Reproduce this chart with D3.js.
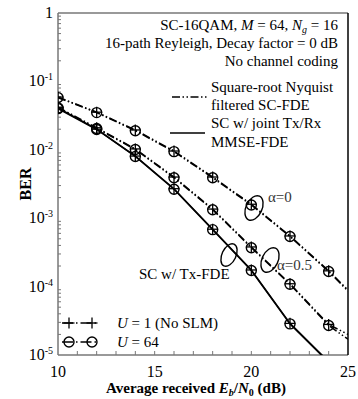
<!DOCTYPE html>
<html lang="en">
<head>
<meta charset="utf-8">
<title>BER vs Eb/N0</title>
<script src="https://cdn.jsdelivr.net/npm/d3@7/dist/d3.min.js"></script>
<style>
  * { margin: 0; padding: 0; }
  body { background: #fff; }
  svg { display: block; }
  svg text { font-family: "Liberation Serif", "Times New Roman", "DejaVu Serif", serif; }
</style>
</head>
<body>
<svg id="chart" width="358" height="399"></svg>
<script>
// data (BER at each Eb/N0 in dB)
const snrDb = [10, 12, 14, 16, 18, 20, 22, 24, 25]
const alpha0U1 = [0.059, 0.0355, 0.0195, 0.0096, 0.0040, 0.0016, 5.5e-4, 1.7e-4, 8.9e-5]
const alpha0U64 = [0.058, 0.035, 0.019, 0.0094, 0.0039, 0.00156, 5.4e-4, 1.66e-4, 8.6e-5]
const alpha05U1 = [0.042, 0.021, 0.0103, 0.0040, 0.00136, 3.8e-4, 1.1e-4, 2.8e-5, 2.0e-5]
const alpha05U64 = [0.041, 0.0205, 0.0101, 0.0039, 0.00133, 3.7e-4, 1.08e-4, 2.7e-5, 1.7e-5]
const mmseU1 = [0.041, 0.020, 0.0081, 0.0027, 6.9e-4, 1.75e-4, 2.9e-5, 8e-6, 3e-6]
const mmseU64 = [0.040, 0.0198, 0.0080, 0.00265, 6.8e-4, 1.72e-4, 2.85e-5, 7.8e-6, 2.9e-6]
const xTicks = [10, 15, 20, 25]
const yTicks = [1, 1e-1, 1e-2, 1e-3, 1e-4, 1e-5]

const svg = d3.select('#chart')
const L = 58, R = 348, T = 13, B = 355
const x = d3.scaleLinear().domain([10, 25]).range([L, R])
const y = d3.scaleLog().domain([1e-5, 1]).range([B, T])

const DASH_DOT2 = '8,2.5,1.5,2.5,1.5,2.5'

svg.append('clipPath').attr('id', 'clip')
  .append('rect').attr('x', L).attr('y', T).attr('width', R - L).attr('height', B - T)

// frame: grey left/top/bottom, black right
const axisGrey = '#777'
svg.append('line').attr('x1', L).attr('x2', L).attr('y1', T).attr('y2', B).attr('stroke', axisGrey).attr('stroke-width', 1.5)
svg.append('line').attr('x1', L).attr('x2', R).attr('y1', T).attr('y2', T).attr('stroke', axisGrey).attr('stroke-width', 1.5)
svg.append('line').attr('x1', L).attr('x2', R).attr('y1', B).attr('y2', B).attr('stroke', axisGrey).attr('stroke-width', 1.5)
svg.append('line').attr('x1', R).attr('x2', R).attr('y1', T).attr('y2', B).attr('stroke', '#000').attr('stroke-width', 1.5)

// y minor ticks (inside)
const yMinor = []
for (let e = -5; e < 0; e++) for (let m = 2; m <= 9; m++) yMinor.push(m * Math.pow(10, e))
svg.append('g').selectAll('line').data(yMinor).join('line')
  .attr('x1', L).attr('x2', L + 3)
  .attr('y1', d => y(d)).attr('y2', d => y(d))
  .attr('stroke', axisGrey).attr('stroke-width', 1)

// x ticks every dB (inside, at bottom)
svg.append('g').selectAll('line').data(d3.range(11, 25)).join('line')
  .attr('x1', d => x(d)).attr('x2', d => x(d))
  .attr('y1', B).attr('y2', B - 4)
  .attr('stroke', axisGrey).attr('stroke-width', 1)

// tick labels
svg.append('g').selectAll('text').data(xTicks).join('text')
  .attr('x', d => x(d)).attr('y', 377)
  .attr('text-anchor', 'middle').attr('font-size', 16)
  .text(d => d)

const yl = svg.append('g').selectAll('text').data(yTicks).join('text')
  .attr('x', 53).attr('y', d => y(d) + 5)
  .attr('text-anchor', 'end').attr('font-size', 16)
yl.each(function (d) {
  const t = d3.select(this)
  const e = Math.round(Math.log10(d))
  if (e === 0) { t.text('1'); return }
  t.append('tspan').text('10')
  t.append('tspan').attr('font-size', 10).attr('dy', -6).text(e)
})

// axis titles
svg.append('text')
  .attr('transform', 'translate(31,184) rotate(-90)')
  .attr('text-anchor', 'middle').attr('font-size', 16).attr('font-weight', 'bold')
  .text('BER')

const xt = svg.append('text').attr('x', 196).attr('y', 393)
  .attr('text-anchor', 'middle').attr('font-size', 15).attr('font-weight', 'bold')
xt.append('tspan').text('Average received ')
xt.append('tspan').attr('font-style', 'italic').text('E')
xt.append('tspan').attr('font-style', 'italic').attr('font-size', 10).attr('dy', 3).text('b')
xt.append('tspan').attr('dy', -3).text('/')
xt.append('tspan').attr('font-style', 'italic').text('N')
xt.append('tspan').attr('font-size', 10).attr('dy', 3).text('0')
xt.append('tspan').attr('dy', -3).text(' (dB)')

// curves
const series = [
  { v: alpha0U1, dash: DASH_DOT2, mk: 'plus' },
  { v: alpha0U64, dash: DASH_DOT2, mk: 'circle' },
  { v: alpha05U1, dash: DASH_DOT2, mk: 'plus' },
  { v: alpha05U64, dash: DASH_DOT2, mk: 'circle' },
  { v: mmseU1, dash: null, mk: 'plus' },
  { v: mmseU64, dash: null, mk: 'circle' }
]
const line = d3.line().x(d => x(d[0])).y(d => y(d[1]))
const plot = svg.append('g').attr('clip-path', 'url(#clip)')

function drawMarker(g, kind, cx, cy) {
  if (kind === 'plus') {
    g.append('line').attr('x1', cx - 5.5).attr('x2', cx + 5.5).attr('y1', cy).attr('y2', cy)
      .attr('stroke', '#000').attr('stroke-width', 1.3)
    g.append('line').attr('x1', cx).attr('x2', cx).attr('y1', cy - 5.5).attr('y2', cy + 5.5)
      .attr('stroke', '#000').attr('stroke-width', 1.3)
  } else {
    g.append('circle').attr('cx', cx).attr('cy', cy).attr('r', 5)
      .attr('fill', 'none').attr('stroke', '#000').attr('stroke-width', 1.4)
  }
}

series.forEach(s => {
  const pts = snrDb.map((d, i) => [d, s.v[i]])
  plot.append('path').datum(pts)
    .attr('d', line)
    .attr('fill', 'none').attr('stroke', '#000').attr('stroke-width', 1.5)
    .attr('stroke-dasharray', s.dash)
  pts.filter(p => p[0] % 2 === 0 && p[1] >= 1e-5)
    .forEach(p => drawMarker(plot, s.mk, x(p[0]), y(p[1])))
})

// header text
const hdr = svg.append('g').attr('font-size', 15).attr('text-anchor', 'end')
const h1 = hdr.append('text').attr('x', 338).attr('y', 30)
h1.append('tspan').text('SC-16QAM, ')
h1.append('tspan').attr('font-style', 'italic').text('M')
h1.append('tspan').text(' = 64, ')
h1.append('tspan').attr('font-style', 'italic').text('N')
h1.append('tspan').attr('font-style', 'italic').attr('font-size', 10).attr('dy', 3).text('g')
h1.append('tspan').attr('dy', -3).text(' = 16')
hdr.append('text').attr('x', 338).attr('y', 48).text('16-path Reyleigh, Decay factor = 0 dB')
hdr.append('text').attr('x', 338).attr('y', 66).text('No channel coding')

// top-right legend
const lg = svg.append('g').attr('font-size', 15)
lg.append('line').attr('x1', 172).attr('x2', 208).attr('y1', 97).attr('y2', 97)
  .attr('stroke', '#000').attr('stroke-width', 1.5).attr('stroke-dasharray', DASH_DOT2)
lg.append('text').attr('x', 211).attr('y', 92).text('Square-root Nyquist')
lg.append('text').attr('x', 211).attr('y', 110).text('filtered SC-FDE')
lg.append('line').attr('x1', 170).attr('x2', 205).attr('y1', 133).attr('y2', 133)
  .attr('stroke', '#000').attr('stroke-width', 1.5)
lg.append('text').attr('x', 211).attr('y', 128).text('SC w/ joint Tx/Rx')
lg.append('text').attr('x', 211).attr('y', 147).text('MMSE-FDE')

// bottom-left legend (U)
const ul = svg.append('g').attr('font-size', 15)
;[{ yy: 323, mk: 'plus', label: ['U', ' = 1 (No SLM)'] },
  { yy: 342, mk: 'circle', label: ['U', ' = 64'] }].forEach(r => {
  ul.append('line').attr('x1', 62).attr('x2', 98).attr('y1', r.yy).attr('y2', r.yy)
    .attr('stroke', '#000').attr('stroke-width', 1.5).attr('stroke-dasharray', '11,3,1.5,3')
  drawMarker(ul, r.mk, 69, r.yy)
  drawMarker(ul, r.mk, 92, r.yy)
  const t = ul.append('text').attr('x', 117).attr('y', r.yy + 5)
  t.append('tspan').attr('font-style', 'italic').text(r.label[0])
  t.append('tspan').text(r.label[1])
})

// annotations
const an = svg.append('g')
an.append('ellipse').attr('transform', 'translate(254,208) rotate(25)')
  .attr('rx', 8).attr('ry', 13).attr('fill', 'none').attr('stroke', '#000').attr('stroke-width', 1.4)
an.append('text').attr('x', 268).attr('y', 202).attr('font-size', 15).attr('fill', '#333').text('α=0')
an.append('ellipse').attr('transform', 'translate(270,260) rotate(25)')
  .attr('rx', 8).attr('ry', 13).attr('fill', 'none').attr('stroke', '#000').attr('stroke-width', 1.4)
an.append('text').attr('x', 277).attr('y', 270).attr('font-size', 15).attr('fill', '#333').text('α=0.5')
an.append('ellipse').attr('transform', 'translate(229,255) rotate(25)')
  .attr('rx', 7).attr('ry', 12).attr('fill', 'none').attr('stroke', '#000').attr('stroke-width', 1.4)
an.append('text').attr('x', 139).attr('y', 279).attr('font-size', 15).text('SC w/ Tx-FDE')
</script>
</body>
</html>
